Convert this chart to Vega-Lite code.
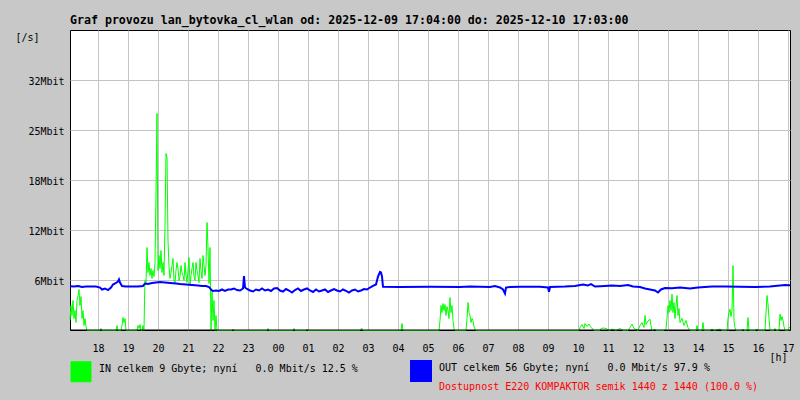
{
  "$schema": "https://vega.github.io/schema/vega-lite/v6.json",
  "width": 720,
  "height": 300,
  "autosize": {"type": "none"},
  "padding": {"left": 70, "top": 30, "right": 10, "bottom": 70},
  "background": "#c8c8c8",
  "view": {"fill": "#ffffff", "stroke": "#000000", "strokeWidth": 1},
  "title": {
    "text": "Graf provozu lan_bytovka_cl_wlan od: 2025-12-09 17:04:00 do: 2025-12-10 17:03:00",
    "anchor": "start",
    "frame": "group",
    "font": "DejaVu Sans Mono",
    "fontSize": 11.6,
    "fontWeight": "bold",
    "color": "#000000",
    "offset": 8,
    "dy": 14,
    "baseline": "alphabetic"
  },
  "config": {
    "view": {"stroke": "#000000", "strokeWidth": 1, "fill": "#ffffff"},
    "axis": {
      "labelFont": "DejaVu Sans Mono",
      "labelFontSize": 10,
      "labelColor": "#000000",
      "titleFont": "DejaVu Sans Mono",
      "titleFontSize": 10,
      "titleFontWeight": "normal",
      "titleColor": "#000000",
      "domain": false,
      "ticks": false,
      "grid": true,
      "gridColor": "#c4c4c4",
      "gridWidth": 1,
      "gridOpacity": 1,
      "labelOverlap": false,
      "labelFlush": false
    },
    "legend": {
      "labelFont": "DejaVu Sans Mono",
      "labelFontSize": 10,
      "labelLimit": 500
    }
  },
  "layer": [
    {
      "data": {
        "values": [
          {"serie": "IN", "minuta": 4, "mbit": 1.28},
          {"serie": "IN", "minuta": 6, "mbit": 3.2},
          {"serie": "IN", "minuta": 8, "mbit": 1.92},
          {"serie": "IN", "minuta": 10, "mbit": 3.84},
          {"serie": "IN", "minuta": 12, "mbit": 1.54},
          {"serie": "IN", "minuta": 14, "mbit": 2.56},
          {"serie": "IN", "minuta": 16, "mbit": 1.02},
          {"serie": "IN", "minuta": 18, "mbit": 3.84},
          {"serie": "IN", "minuta": 20, "mbit": 4.48},
          {"serie": "IN", "minuta": 22, "mbit": 5.25},
          {"serie": "IN", "minuta": 24, "mbit": 3.2},
          {"serie": "IN", "minuta": 26, "mbit": 4.35},
          {"serie": "IN", "minuta": 28, "mbit": 1.54},
          {"serie": "IN", "minuta": 30, "mbit": 2.56},
          {"serie": "IN", "minuta": 32, "mbit": 0.64},
          {"serie": "IN", "minuta": 34, "mbit": 1.54},
          {"serie": "IN", "minuta": 36, "mbit": 0.51},
          {"serie": "IN", "minuta": 38, "mbit": 0},
          {"serie": "IN", "minuta": 64, "mbit": 0},
          {"serie": "IN", "minuta": 66, "mbit": 0.26},
          {"serie": "IN", "minuta": 68, "mbit": 0},
          {"serie": "IN", "minuta": 96, "mbit": 0},
          {"serie": "IN", "minuta": 98, "mbit": 0.64},
          {"serie": "IN", "minuta": 100, "mbit": 0},
          {"serie": "IN", "minuta": 106, "mbit": 0},
          {"serie": "IN", "minuta": 108, "mbit": 0.64},
          {"serie": "IN", "minuta": 110, "mbit": 1.66},
          {"serie": "IN", "minuta": 112, "mbit": 1.02},
          {"serie": "IN", "minuta": 114, "mbit": 1.54},
          {"serie": "IN", "minuta": 116, "mbit": 0},
          {"serie": "IN", "minuta": 138, "mbit": 0},
          {"serie": "IN", "minuta": 140, "mbit": 0.64},
          {"serie": "IN", "minuta": 142, "mbit": 0.26},
          {"serie": "IN", "minuta": 144, "mbit": 0.77},
          {"serie": "IN", "minuta": 146, "mbit": 0},
          {"serie": "IN", "minuta": 148, "mbit": 0},
          {"serie": "IN", "minuta": 150, "mbit": 0.64},
          {"serie": "IN", "minuta": 152, "mbit": 0},
          {"serie": "IN", "minuta": 153, "mbit": 3.84},
          {"serie": "IN", "minuta": 154, "mbit": 6.4},
          {"serie": "IN", "minuta": 156, "mbit": 6.02},
          {"serie": "IN", "minuta": 158, "mbit": 10.62},
          {"serie": "IN", "minuta": 160, "mbit": 7.42},
          {"serie": "IN", "minuta": 162, "mbit": 8.7},
          {"serie": "IN", "minuta": 164, "mbit": 7.04},
          {"serie": "IN", "minuta": 166, "mbit": 7.94},
          {"serie": "IN", "minuta": 168, "mbit": 6.66},
          {"serie": "IN", "minuta": 170, "mbit": 7.68},
          {"serie": "IN", "minuta": 172, "mbit": 6.91},
          {"serie": "IN", "minuta": 174, "mbit": 8.7},
          {"serie": "IN", "minuta": 176, "mbit": 17.54},
          {"serie": "IN", "minuta": 178, "mbit": 27.78},
          {"serie": "IN", "minuta": 180, "mbit": 7.68},
          {"serie": "IN", "minuta": 182, "mbit": 9.6},
          {"serie": "IN", "minuta": 184, "mbit": 7.94},
          {"serie": "IN", "minuta": 186, "mbit": 10.24},
          {"serie": "IN", "minuta": 188, "mbit": 7.42},
          {"serie": "IN", "minuta": 190, "mbit": 8.7},
          {"serie": "IN", "minuta": 192, "mbit": 7.04},
          {"serie": "IN", "minuta": 194, "mbit": 13.44},
          {"serie": "IN", "minuta": 196, "mbit": 22.66},
          {"serie": "IN", "minuta": 198, "mbit": 22.14},
          {"serie": "IN", "minuta": 200, "mbit": 11.52},
          {"serie": "IN", "minuta": 202, "mbit": 8.19},
          {"serie": "IN", "minuta": 204, "mbit": 6.66},
          {"serie": "IN", "minuta": 206, "mbit": 7.42},
          {"serie": "IN", "minuta": 208, "mbit": 8.32},
          {"serie": "IN", "minuta": 210, "mbit": 9.22},
          {"serie": "IN", "minuta": 212, "mbit": 6.4},
          {"serie": "IN", "minuta": 214, "mbit": 6.02},
          {"serie": "IN", "minuta": 216, "mbit": 7.68},
          {"serie": "IN", "minuta": 218, "mbit": 8.7},
          {"serie": "IN", "minuta": 220, "mbit": 7.94},
          {"serie": "IN", "minuta": 222, "mbit": 6.4},
          {"serie": "IN", "minuta": 224, "mbit": 6.91},
          {"serie": "IN", "minuta": 226, "mbit": 8.32},
          {"serie": "IN", "minuta": 228, "mbit": 7.42},
          {"serie": "IN", "minuta": 230, "mbit": 7.04},
          {"serie": "IN", "minuta": 232, "mbit": 6.4},
          {"serie": "IN", "minuta": 234, "mbit": 8.7},
          {"serie": "IN", "minuta": 236, "mbit": 7.04},
          {"serie": "IN", "minuta": 238, "mbit": 6.14},
          {"serie": "IN", "minuta": 240, "mbit": 7.68},
          {"serie": "IN", "minuta": 242, "mbit": 9.34},
          {"serie": "IN", "minuta": 244, "mbit": 5.76},
          {"serie": "IN", "minuta": 246, "mbit": 7.04},
          {"serie": "IN", "minuta": 248, "mbit": 7.94},
          {"serie": "IN", "minuta": 250, "mbit": 8.7},
          {"serie": "IN", "minuta": 252, "mbit": 6.91},
          {"serie": "IN", "minuta": 254, "mbit": 6.4},
          {"serie": "IN", "minuta": 256, "mbit": 8.7},
          {"serie": "IN", "minuta": 258, "mbit": 7.68},
          {"serie": "IN", "minuta": 260, "mbit": 7.04},
          {"serie": "IN", "minuta": 262, "mbit": 6.14},
          {"serie": "IN", "minuta": 264, "mbit": 9.22},
          {"serie": "IN", "minuta": 266, "mbit": 7.68},
          {"serie": "IN", "minuta": 268, "mbit": 6.66},
          {"serie": "IN", "minuta": 270, "mbit": 9.6},
          {"serie": "IN", "minuta": 272, "mbit": 8.32},
          {"serie": "IN", "minuta": 274, "mbit": 7.04},
          {"serie": "IN", "minuta": 276, "mbit": 8.32},
          {"serie": "IN", "minuta": 278, "mbit": 13.82},
          {"serie": "IN", "minuta": 280, "mbit": 10.62},
          {"serie": "IN", "minuta": 282, "mbit": 6.02},
          {"serie": "IN", "minuta": 284, "mbit": 10.62},
          {"serie": "IN", "minuta": 286, "mbit": 0},
          {"serie": "IN", "minuta": 288, "mbit": 5.12},
          {"serie": "IN", "minuta": 290, "mbit": 1.28},
          {"serie": "IN", "minuta": 292, "mbit": 3.84},
          {"serie": "IN", "minuta": 294, "mbit": 0},
          {"serie": "IN", "minuta": 296, "mbit": 1.92},
          {"serie": "IN", "minuta": 298, "mbit": 0},
          {"serie": "IN", "minuta": 328, "mbit": 0},
          {"serie": "IN", "minuta": 330, "mbit": 0.17},
          {"serie": "IN", "minuta": 332, "mbit": 0},
          {"serie": "IN", "minuta": 398, "mbit": 0},
          {"serie": "IN", "minuta": 400, "mbit": 0.26},
          {"serie": "IN", "minuta": 402, "mbit": 0},
          {"serie": "IN", "minuta": 450, "mbit": 0},
          {"serie": "IN", "minuta": 452, "mbit": 0.26},
          {"serie": "IN", "minuta": 454, "mbit": 0},
          {"serie": "IN", "minuta": 476, "mbit": 0},
          {"serie": "IN", "minuta": 478, "mbit": 0.17},
          {"serie": "IN", "minuta": 480, "mbit": 0},
          {"serie": "IN", "minuta": 584, "mbit": 0},
          {"serie": "IN", "minuta": 586, "mbit": 0.22},
          {"serie": "IN", "minuta": 588, "mbit": 0.26},
          {"serie": "IN", "minuta": 590, "mbit": 0},
          {"serie": "IN", "minuta": 666, "mbit": 0},
          {"serie": "IN", "minuta": 668, "mbit": 0.9},
          {"serie": "IN", "minuta": 670, "mbit": 0},
          {"serie": "IN", "minuta": 742, "mbit": 0},
          {"serie": "IN", "minuta": 744, "mbit": 1.28},
          {"serie": "IN", "minuta": 746, "mbit": 3.2},
          {"serie": "IN", "minuta": 748, "mbit": 2.3},
          {"serie": "IN", "minuta": 750, "mbit": 3.46},
          {"serie": "IN", "minuta": 752, "mbit": 2.56},
          {"serie": "IN", "minuta": 754, "mbit": 3.33},
          {"serie": "IN", "minuta": 756, "mbit": 1.92},
          {"serie": "IN", "minuta": 758, "mbit": 3.07},
          {"serie": "IN", "minuta": 760, "mbit": 2.56},
          {"serie": "IN", "minuta": 762, "mbit": 1.54},
          {"serie": "IN", "minuta": 764, "mbit": 4.22},
          {"serie": "IN", "minuta": 766, "mbit": 2.3},
          {"serie": "IN", "minuta": 768, "mbit": 3.2},
          {"serie": "IN", "minuta": 770, "mbit": 1.28},
          {"serie": "IN", "minuta": 772, "mbit": 0.26},
          {"serie": "IN", "minuta": 774, "mbit": 0},
          {"serie": "IN", "minuta": 796, "mbit": 0},
          {"serie": "IN", "minuta": 798, "mbit": 1.54},
          {"serie": "IN", "minuta": 800, "mbit": 3.58},
          {"serie": "IN", "minuta": 802, "mbit": 2.3},
          {"serie": "IN", "minuta": 804, "mbit": 1.92},
          {"serie": "IN", "minuta": 806, "mbit": 1.02},
          {"serie": "IN", "minuta": 808, "mbit": 1.54},
          {"serie": "IN", "minuta": 810, "mbit": 1.28},
          {"serie": "IN", "minuta": 812, "mbit": 0.51},
          {"serie": "IN", "minuta": 814, "mbit": 0.17},
          {"serie": "IN", "minuta": 816, "mbit": 0},
          {"serie": "IN", "minuta": 1022, "mbit": 0},
          {"serie": "IN", "minuta": 1024, "mbit": 0.38},
          {"serie": "IN", "minuta": 1028, "mbit": 0.77},
          {"serie": "IN", "minuta": 1032, "mbit": 0.26},
          {"serie": "IN", "minuta": 1034, "mbit": 0.9},
          {"serie": "IN", "minuta": 1038, "mbit": 0.51},
          {"serie": "IN", "minuta": 1042, "mbit": 0.83},
          {"serie": "IN", "minuta": 1046, "mbit": 0.38},
          {"serie": "IN", "minuta": 1050, "mbit": 0.19},
          {"serie": "IN", "minuta": 1052, "mbit": 0},
          {"serie": "IN", "minuta": 1064, "mbit": 0},
          {"serie": "IN", "minuta": 1066, "mbit": 0.26},
          {"serie": "IN", "minuta": 1072, "mbit": 0.32},
          {"serie": "IN", "minuta": 1078, "mbit": 0.19},
          {"serie": "IN", "minuta": 1084, "mbit": 0},
          {"serie": "IN", "minuta": 1088, "mbit": 0.19},
          {"serie": "IN", "minuta": 1096, "mbit": 0},
          {"serie": "IN", "minuta": 1104, "mbit": 0.26},
          {"serie": "IN", "minuta": 1110, "mbit": 0},
          {"serie": "IN", "minuta": 1120, "mbit": 0},
          {"serie": "IN", "minuta": 1124, "mbit": 0.38},
          {"serie": "IN", "minuta": 1128, "mbit": 0.83},
          {"serie": "IN", "minuta": 1132, "mbit": 0.26},
          {"serie": "IN", "minuta": 1140, "mbit": 0},
          {"serie": "IN", "minuta": 1144, "mbit": 0.64},
          {"serie": "IN", "minuta": 1148, "mbit": 1.02},
          {"serie": "IN", "minuta": 1152, "mbit": 0.38},
          {"serie": "IN", "minuta": 1154, "mbit": 1.92},
          {"serie": "IN", "minuta": 1156, "mbit": 0.77},
          {"serie": "IN", "minuta": 1160, "mbit": 1.22},
          {"serie": "IN", "minuta": 1164, "mbit": 1.44},
          {"serie": "IN", "minuta": 1166, "mbit": 0.64},
          {"serie": "IN", "minuta": 1168, "mbit": 0},
          {"serie": "IN", "minuta": 1174, "mbit": 0.17},
          {"serie": "IN", "minuta": 1176, "mbit": 0},
          {"serie": "IN", "minuta": 1192, "mbit": 0},
          {"serie": "IN", "minuta": 1196, "mbit": 0.26},
          {"serie": "IN", "minuta": 1198, "mbit": 1.54},
          {"serie": "IN", "minuta": 1200, "mbit": 3.2},
          {"serie": "IN", "minuta": 1202, "mbit": 2.3},
          {"serie": "IN", "minuta": 1204, "mbit": 3.84},
          {"serie": "IN", "minuta": 1206, "mbit": 2.56},
          {"serie": "IN", "minuta": 1208, "mbit": 4.65},
          {"serie": "IN", "minuta": 1210, "mbit": 2.3},
          {"serie": "IN", "minuta": 1212, "mbit": 3.58},
          {"serie": "IN", "minuta": 1214, "mbit": 1.54},
          {"serie": "IN", "minuta": 1216, "mbit": 3.2},
          {"serie": "IN", "minuta": 1218, "mbit": 4.48},
          {"serie": "IN", "minuta": 1220, "mbit": 1.92},
          {"serie": "IN", "minuta": 1222, "mbit": 2.82},
          {"serie": "IN", "minuta": 1224, "mbit": 1.02},
          {"serie": "IN", "minuta": 1228, "mbit": 1.54},
          {"serie": "IN", "minuta": 1232, "mbit": 0.64},
          {"serie": "IN", "minuta": 1236, "mbit": 1.28},
          {"serie": "IN", "minuta": 1240, "mbit": 0.38},
          {"serie": "IN", "minuta": 1244, "mbit": 0},
          {"serie": "IN", "minuta": 1256, "mbit": 0},
          {"serie": "IN", "minuta": 1258, "mbit": 0.64},
          {"serie": "IN", "minuta": 1260, "mbit": 0},
          {"serie": "IN", "minuta": 1268, "mbit": 0},
          {"serie": "IN", "minuta": 1270, "mbit": 1.02},
          {"serie": "IN", "minuta": 1272, "mbit": 0},
          {"serie": "IN", "minuta": 1284, "mbit": 0},
          {"serie": "IN", "minuta": 1288, "mbit": 0.19},
          {"serie": "IN", "minuta": 1292, "mbit": 0},
          {"serie": "IN", "minuta": 1304, "mbit": 0.19},
          {"serie": "IN", "minuta": 1308, "mbit": 0},
          {"serie": "IN", "minuta": 1318, "mbit": 0},
          {"serie": "IN", "minuta": 1320, "mbit": 1.54},
          {"serie": "IN", "minuta": 1322, "mbit": 2.3},
          {"serie": "IN", "minuta": 1324, "mbit": 2.73},
          {"serie": "IN", "minuta": 1326, "mbit": 1.79},
          {"serie": "IN", "minuta": 1328, "mbit": 2.56},
          {"serie": "IN", "minuta": 1330, "mbit": 8.32},
          {"serie": "IN", "minuta": 1332, "mbit": 1.28},
          {"serie": "IN", "minuta": 1334, "mbit": 0.38},
          {"serie": "IN", "minuta": 1336, "mbit": 0},
          {"serie": "IN", "minuta": 1348, "mbit": 0},
          {"serie": "IN", "minuta": 1350, "mbit": 0.19},
          {"serie": "IN", "minuta": 1352, "mbit": 0},
          {"serie": "IN", "minuta": 1358, "mbit": 0},
          {"serie": "IN", "minuta": 1360, "mbit": 1.66},
          {"serie": "IN", "minuta": 1362, "mbit": 0},
          {"serie": "IN", "minuta": 1374, "mbit": 0},
          {"serie": "IN", "minuta": 1378, "mbit": 0.19},
          {"serie": "IN", "minuta": 1380, "mbit": 0},
          {"serie": "IN", "minuta": 1394, "mbit": 0},
          {"serie": "IN", "minuta": 1396, "mbit": 2.3},
          {"serie": "IN", "minuta": 1398, "mbit": 4.48},
          {"serie": "IN", "minuta": 1400, "mbit": 3.36},
          {"serie": "IN", "minuta": 1402, "mbit": 1.54},
          {"serie": "IN", "minuta": 1404, "mbit": 0},
          {"serie": "IN", "minuta": 1412, "mbit": 0},
          {"serie": "IN", "minuta": 1414, "mbit": 0.26},
          {"serie": "IN", "minuta": 1416, "mbit": 0},
          {"serie": "IN", "minuta": 1422, "mbit": 0},
          {"serie": "IN", "minuta": 1424, "mbit": 2.09},
          {"serie": "IN", "minuta": 1426, "mbit": 1.28},
          {"serie": "IN", "minuta": 1428, "mbit": 1.79},
          {"serie": "IN", "minuta": 1430, "mbit": 1.28},
          {"serie": "IN", "minuta": 1432, "mbit": 0.51},
          {"serie": "IN", "minuta": 1434, "mbit": 0},
          {"serie": "IN", "minuta": 1440, "mbit": 0},
          {"serie": "IN", "minuta": 1442, "mbit": 0.38},
          {"serie": "IN", "minuta": 1444, "mbit": 0.38},
          {"serie": "OUT", "minuta": 4, "mbit": 5.67},
          {"serie": "OUT", "minuta": 12, "mbit": 5.63},
          {"serie": "OUT", "minuta": 20, "mbit": 5.7},
          {"serie": "OUT", "minuta": 28, "mbit": 5.57},
          {"serie": "OUT", "minuta": 36, "mbit": 5.63},
          {"serie": "OUT", "minuta": 44, "mbit": 5.63},
          {"serie": "OUT", "minuta": 56, "mbit": 5.63},
          {"serie": "OUT", "minuta": 64, "mbit": 5.5},
          {"serie": "OUT", "minuta": 68, "mbit": 5.25},
          {"serie": "OUT", "minuta": 74, "mbit": 5.38},
          {"serie": "OUT", "minuta": 80, "mbit": 5.18},
          {"serie": "OUT", "minuta": 86, "mbit": 5.5},
          {"serie": "OUT", "minuta": 90, "mbit": 5.89},
          {"serie": "OUT", "minuta": 96, "mbit": 6.08},
          {"serie": "OUT", "minuta": 100, "mbit": 6.27},
          {"serie": "OUT", "minuta": 102, "mbit": 6.53},
          {"serie": "OUT", "minuta": 104, "mbit": 6.14},
          {"serie": "OUT", "minuta": 108, "mbit": 5.7},
          {"serie": "OUT", "minuta": 116, "mbit": 5.63},
          {"serie": "OUT", "minuta": 128, "mbit": 5.63},
          {"serie": "OUT", "minuta": 140, "mbit": 5.63},
          {"serie": "OUT", "minuta": 150, "mbit": 5.7},
          {"serie": "OUT", "minuta": 154, "mbit": 6.02},
          {"serie": "OUT", "minuta": 160, "mbit": 5.95},
          {"serie": "OUT", "minuta": 168, "mbit": 6.08},
          {"serie": "OUT", "minuta": 176, "mbit": 6.14},
          {"serie": "OUT", "minuta": 184, "mbit": 6.21},
          {"serie": "OUT", "minuta": 194, "mbit": 6.14},
          {"serie": "OUT", "minuta": 204, "mbit": 6.08},
          {"serie": "OUT", "minuta": 216, "mbit": 6.02},
          {"serie": "OUT", "minuta": 224, "mbit": 5.95},
          {"serie": "OUT", "minuta": 236, "mbit": 5.89},
          {"serie": "OUT", "minuta": 248, "mbit": 5.82},
          {"serie": "OUT", "minuta": 260, "mbit": 5.76},
          {"serie": "OUT", "minuta": 268, "mbit": 5.7},
          {"serie": "OUT", "minuta": 276, "mbit": 5.7},
          {"serie": "OUT", "minuta": 282, "mbit": 5.57},
          {"serie": "OUT", "minuta": 286, "mbit": 5.25},
          {"serie": "OUT", "minuta": 290, "mbit": 5.06},
          {"serie": "OUT", "minuta": 296, "mbit": 5.12},
          {"serie": "OUT", "minuta": 302, "mbit": 5.06},
          {"serie": "OUT", "minuta": 308, "mbit": 5.25},
          {"serie": "OUT", "minuta": 314, "mbit": 5.06},
          {"serie": "OUT", "minuta": 320, "mbit": 5.25},
          {"serie": "OUT", "minuta": 326, "mbit": 5.25},
          {"serie": "OUT", "minuta": 332, "mbit": 5.38},
          {"serie": "OUT", "minuta": 338, "mbit": 5.18},
          {"serie": "OUT", "minuta": 344, "mbit": 5.12},
          {"serie": "OUT", "minuta": 350, "mbit": 5.38},
          {"serie": "OUT", "minuta": 352, "mbit": 6.98},
          {"serie": "OUT", "minuta": 354, "mbit": 5.5},
          {"serie": "OUT", "minuta": 358, "mbit": 5.31},
          {"serie": "OUT", "minuta": 364, "mbit": 5.12},
          {"serie": "OUT", "minuta": 370, "mbit": 4.99},
          {"serie": "OUT", "minuta": 376, "mbit": 5.25},
          {"serie": "OUT", "minuta": 382, "mbit": 5.12},
          {"serie": "OUT", "minuta": 388, "mbit": 5.38},
          {"serie": "OUT", "minuta": 394, "mbit": 5.12},
          {"serie": "OUT", "minuta": 400, "mbit": 5.25},
          {"serie": "OUT", "minuta": 406, "mbit": 5.06},
          {"serie": "OUT", "minuta": 412, "mbit": 5.38},
          {"serie": "OUT", "minuta": 418, "mbit": 5.44},
          {"serie": "OUT", "minuta": 424, "mbit": 5.12},
          {"serie": "OUT", "minuta": 430, "mbit": 4.99},
          {"serie": "OUT", "minuta": 436, "mbit": 5.31},
          {"serie": "OUT", "minuta": 442, "mbit": 5.12},
          {"serie": "OUT", "minuta": 448, "mbit": 4.86},
          {"serie": "OUT", "minuta": 454, "mbit": 5.18},
          {"serie": "OUT", "minuta": 460, "mbit": 5.38},
          {"serie": "OUT", "minuta": 466, "mbit": 5.06},
          {"serie": "OUT", "minuta": 472, "mbit": 5.25},
          {"serie": "OUT", "minuta": 478, "mbit": 5.38},
          {"serie": "OUT", "minuta": 484, "mbit": 5.12},
          {"serie": "OUT", "minuta": 490, "mbit": 4.93},
          {"serie": "OUT", "minuta": 496, "mbit": 5.25},
          {"serie": "OUT", "minuta": 502, "mbit": 4.99},
          {"serie": "OUT", "minuta": 508, "mbit": 5.12},
          {"serie": "OUT", "minuta": 514, "mbit": 5.25},
          {"serie": "OUT", "minuta": 520, "mbit": 4.93},
          {"serie": "OUT", "minuta": 526, "mbit": 5.12},
          {"serie": "OUT", "minuta": 532, "mbit": 5.31},
          {"serie": "OUT", "minuta": 538, "mbit": 5.12},
          {"serie": "OUT", "minuta": 544, "mbit": 4.99},
          {"serie": "OUT", "minuta": 550, "mbit": 5.25},
          {"serie": "OUT", "minuta": 556, "mbit": 5.06},
          {"serie": "OUT", "minuta": 562, "mbit": 4.86},
          {"serie": "OUT", "minuta": 568, "mbit": 5.12},
          {"serie": "OUT", "minuta": 574, "mbit": 5.25},
          {"serie": "OUT", "minuta": 580, "mbit": 4.99},
          {"serie": "OUT", "minuta": 586, "mbit": 5.12},
          {"serie": "OUT", "minuta": 592, "mbit": 5.31},
          {"serie": "OUT", "minuta": 598, "mbit": 5.25},
          {"serie": "OUT", "minuta": 604, "mbit": 5.5},
          {"serie": "OUT", "minuta": 610, "mbit": 5.7},
          {"serie": "OUT", "minuta": 616, "mbit": 5.89},
          {"serie": "OUT", "minuta": 620, "mbit": 6.91},
          {"serie": "OUT", "minuta": 624, "mbit": 7.49},
          {"serie": "OUT", "minuta": 626, "mbit": 7.42},
          {"serie": "OUT", "minuta": 628, "mbit": 6.91},
          {"serie": "OUT", "minuta": 630, "mbit": 5.59},
          {"serie": "OUT", "minuta": 664, "mbit": 5.57},
          {"serie": "OUT", "minuta": 724, "mbit": 5.59},
          {"serie": "OUT", "minuta": 784, "mbit": 5.57},
          {"serie": "OUT", "minuta": 804, "mbit": 5.63},
          {"serie": "OUT", "minuta": 824, "mbit": 5.59},
          {"serie": "OUT", "minuta": 844, "mbit": 5.57},
          {"serie": "OUT", "minuta": 854, "mbit": 5.7},
          {"serie": "OUT", "minuta": 864, "mbit": 5.5},
          {"serie": "OUT", "minuta": 870, "mbit": 5.25},
          {"serie": "OUT", "minuta": 874, "mbit": 4.74},
          {"serie": "OUT", "minuta": 876, "mbit": 5.5},
          {"serie": "OUT", "minuta": 884, "mbit": 5.57},
          {"serie": "OUT", "minuta": 904, "mbit": 5.59},
          {"serie": "OUT", "minuta": 944, "mbit": 5.59},
          {"serie": "OUT", "minuta": 960, "mbit": 5.5},
          {"serie": "OUT", "minuta": 962, "mbit": 4.95},
          {"serie": "OUT", "minuta": 964, "mbit": 5.57},
          {"serie": "OUT", "minuta": 994, "mbit": 5.63},
          {"serie": "OUT", "minuta": 1014, "mbit": 5.7},
          {"serie": "OUT", "minuta": 1030, "mbit": 5.89},
          {"serie": "OUT", "minuta": 1040, "mbit": 5.76},
          {"serie": "OUT", "minuta": 1046, "mbit": 5.93},
          {"serie": "OUT", "minuta": 1054, "mbit": 5.63},
          {"serie": "OUT", "minuta": 1074, "mbit": 5.7},
          {"serie": "OUT", "minuta": 1088, "mbit": 5.76},
          {"serie": "OUT", "minuta": 1104, "mbit": 5.7},
          {"serie": "OUT", "minuta": 1120, "mbit": 5.82},
          {"serie": "OUT", "minuta": 1130, "mbit": 5.63},
          {"serie": "OUT", "minuta": 1144, "mbit": 5.57},
          {"serie": "OUT", "minuta": 1154, "mbit": 5.38},
          {"serie": "OUT", "minuta": 1164, "mbit": 5.25},
          {"serie": "OUT", "minuta": 1174, "mbit": 5.12},
          {"serie": "OUT", "minuta": 1180, "mbit": 4.86},
          {"serie": "OUT", "minuta": 1186, "mbit": 5.25},
          {"serie": "OUT", "minuta": 1194, "mbit": 5.44},
          {"serie": "OUT", "minuta": 1208, "mbit": 5.41},
          {"serie": "OUT", "minuta": 1224, "mbit": 5.5},
          {"serie": "OUT", "minuta": 1244, "mbit": 5.38},
          {"serie": "OUT", "minuta": 1260, "mbit": 5.5},
          {"serie": "OUT", "minuta": 1274, "mbit": 5.57},
          {"serie": "OUT", "minuta": 1288, "mbit": 5.63},
          {"serie": "OUT", "minuta": 1314, "mbit": 5.63},
          {"serie": "OUT", "minuta": 1344, "mbit": 5.59},
          {"serie": "OUT", "minuta": 1374, "mbit": 5.57},
          {"serie": "OUT", "minuta": 1404, "mbit": 5.63},
          {"serie": "OUT", "minuta": 1424, "mbit": 5.76},
          {"serie": "OUT", "minuta": 1434, "mbit": 5.82},
          {"serie": "OUT", "minuta": 1444, "mbit": 5.8}
        ]
      },
      "mark": {"type": "line", "interpolate": "linear", "yOffset": 0.5},
      "encoding": {
        "x": {
          "field": "minuta",
          "type": "quantitative",
          "scale": {"domain": [4, 1444], "nice": false, "zero": false},
          "axis": {
            "values": [60, 120, 180, 240, 300, 360, 420, 480, 540, 600, 660, 720, 780, 840, 900, 960, 1020, 1080, 1140, 1200, 1260, 1320, 1380, 1440],
            "labelExpr": "format((datum.value / 60 + 17) % 24, '02d')",
            "labelPadding": 13,
            "labelBaseline": "top",
            "title": "[h]",
            "titleX": 717,
            "titleY": 27,
            "titleAlign": "right",
            "titleBaseline": "middle",
            "titleAnchor": null
          }
        },
        "y": {
          "field": "mbit",
          "type": "quantitative",
          "scale": {"domain": [0, 38.4], "nice": false},
          "axis": {
            "values": [6.4, 12.8, 19.2, 25.6, 32],
            "labelExpr": "datum.value < 7 ? '6Mbit' : datum.value < 13 ? '12Mbit' : datum.value < 20 ? '18Mbit' : datum.value < 26 ? '25Mbit' : '32Mbit'",
            "labelPadding": 6,
            "labelOffset": 1,
            "title": "[/s]",
            "titleAngle": 0,
            "titleX": -55,
            "titleY": 7,
            "titleAlign": "left",
            "titleBaseline": "middle"
          }
        },
        "color": {
          "field": "serie",
          "type": "nominal",
          "scale": {"domain": ["IN", "OUT"], "range": ["#00ff00", "#0000ff"]},
          "legend": {
            "orient": "none",
            "legendX": 0,
            "legendY": 330,
            "direction": "horizontal",
            "columns": 2,
            "columnPadding": 49,
            "padding": 0,
            "title": null,
            "symbolType": "square",
            "symbolSize": 400,
            "labelOffset": 7,
            "labelBaseline": "alphabetic",
            "labelColor": "#000000",
            "labelExpr": "datum.value == 'IN' ? 'IN celkem 9 Gbyte; nyní\u00a0\u00a0\u00a00.0 Mbit/s 12.5 %' : 'OUT celkem 56 Gbyte; nyní\u00a0\u00a0\u00a00.0 Mbit/s 97.9 %'",
            "encode": {
              "symbols": {
                "update": {
                  "fill": {"scale": "color", "field": "value"},
                  "stroke": {"value": "#000000"},
                  "strokeWidth": {"value": 1},
                  "opacity": {"value": 1}
                }
              }
            }
          }
        },
        "strokeWidth": {
          "field": "serie",
          "type": "nominal",
          "scale": {"domain": ["IN", "OUT"], "range": [1, 2]},
          "legend": null
        }
      }
    },
    {
      "data": {"values": [{"zaklad": 0}]},
      "mark": {"type": "rule", "color": "#000000", "strokeWidth": 1},
      "encoding": {"y": {"field": "zaklad", "type": "quantitative"}}
    },
    {
      "data": {"values": [{"pozn": "Dostupnost E220 KOMPAKTOR semik 1440 z 1440 (100.0 %)"}]},
      "mark": {"type": "point", "opacity": 0},
      "encoding": {
        "shape": {
          "field": "pozn",
          "type": "nominal",
          "legend": {
            "orient": "none",
            "legendX": 359,
            "legendY": 355,
            "padding": 0,
            "title": null,
            "symbolSize": 100,
            "symbolOpacity": 0,
            "symbolStrokeWidth": 0,
            "labelOffset": 0,
            "labelBaseline": "alphabetic",
            "labelColor": "#ff0000"
          }
        }
      }
    }
  ]
}
